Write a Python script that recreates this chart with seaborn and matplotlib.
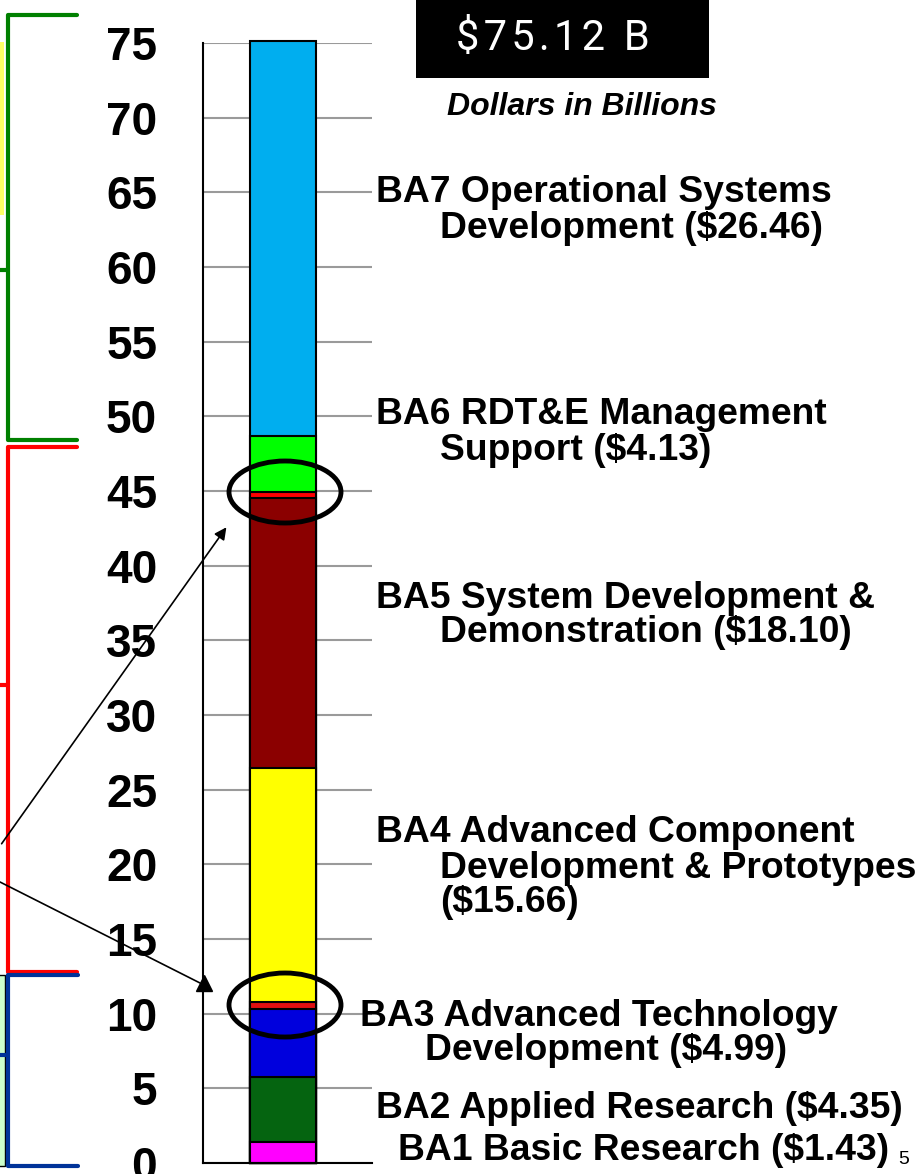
import numpy as np
import pandas as pd
import matplotlib.pyplot as plt
import seaborn as sns
from matplotlib.patches import Ellipse, Rectangle

# RDT&E budget activities, bottom to top (dollars in billions)
ba_codes = ["BA1", "BA2", "BA3", "BA4", "BA5", "BA6", "BA7"]
ba_values = [1.43, 4.35, 4.99, 15.66, 18.10, 4.13, 26.46]
total = 75.12

# segments as drawn in the bar (thin red slices sit at the BA3 / BA6 tops and bottoms)
seg_names = ["BA1", "BA2", "BA3", "BA3 slice", "BA4", "BA5", "BA6 slice", "BA6", "BA7"]
seg_values = [1.43, 4.35, 4.54, 0.45, 15.66, 18.10, 0.37, 3.76, 26.46]
seg_colors = ["#FF00FF", "#056410", "#0000DD", "#E01010", "#FFFF00",
              "#8B0000", "#FF0000", "#00FF00", "#00AEEF"]

y_ticks = list(range(0, 80, 5))

sns.set_style("white")
plt.rcParams["font.family"] = ["Liberation Sans", "DejaVu Sans"]
plt.rcParams["text.color"] = "black"
plt.rcParams["axes.labelcolor"] = "black"
plt.rcParams["xtick.color"] = "black"
plt.rcParams["ytick.color"] = "black"

df = pd.DataFrame({"seg": seg_names, "value": seg_values, "color": seg_colors})
df["top"] = df["value"].cumsum()
df["bar"] = "RDT&E"

fig = plt.figure(figsize=(9.24, 11.74), dpi=100)
ax = fig.add_axes([203 / 924, 11 / 1174, 169 / 924, 1120 / 1174])

# stacked bar: draw cumulative totals from the top down so each lower one sits on top
for _, row in df.iloc[::-1].iterrows():
    sns.barplot(x=[row["bar"]], y=[row["top"]], color=row["color"], saturation=1,
                width=0.39, edgecolor="black", linewidth=1.5, clip_on=False, ax=ax)

ax.set_xlim(-0.473, 0.527)
ax.set_ylim(0, 75)
ax.set_yticks(y_ticks)
ax.set_yticklabels([str(t) for t in y_ticks], fontsize=33, fontweight="bold", color="black")
ax.set_xticks([-0.473, 0.491])
ax.set_xticklabels(["", ""])
ax.set_xlabel("")
ax.set_ylabel("")
ax.yaxis.grid(True, color="#9a9a9a", linewidth=1.5)
ax.set_axisbelow(True)
for s in ["top", "right"]:
    ax.spines[s].set_visible(False)
for s in ["left", "bottom"]:
    ax.spines[s].set_color("black")
    ax.spines[s].set_linewidth(1.5)
ax.tick_params(axis="y", direction="out", length=13, width=1.5, pad=20, colors="black")
ax.tick_params(axis="x", direction="out", length=8, width=1.5, colors="black")

# overlay in pixel coordinates for the slide annotations
ov = fig.add_axes([0, 0, 1, 1], zorder=5)
ov.set_xlim(0, 924)
ov.set_ylim(1174, 0)
ov.axis("off")
ov.patch.set_alpha(0)

# cut-off slide elements at the left edge
ov.add_patch(Rectangle((0, 42), 4, 173, fc="#FFFF66", ec="none"))
ov.add_patch(Rectangle((-3, 975), 8, 191, fc="#CCFFCC", ec="black", lw=1))
ov.plot([77, 8, 8, 77], [15, 15, 440, 440], color="#008000", lw=3, solid_capstyle="round")
ov.plot([0, 8], [270, 270], color="#008000", lw=3)
ov.plot([77, 8, 8, 77], [447, 447, 972, 972], color="#FF0000", lw=3, solid_capstyle="round")
ov.plot([0, 8], [685, 685], color="#FF0000", lw=3)
ov.plot([78, 8, 8, 78], [975, 975, 1166, 1166], color="#003399", lw=3, solid_capstyle="round")
ov.plot([0, 8], [1055, 1055], color="#003399", lw=3)

# arrows and circles
ov.annotate("", xy=(228, 525), xytext=(0, 846),
            arrowprops=dict(arrowstyle="-|>", color="black", lw=1.2, mutation_scale=18))
ov.plot([0, 200], [882, 983], color="black", lw=1.2)
ov.plot([204], [983], marker="^", markersize=11, color="black")
ov.add_patch(Ellipse((285, 492), 112, 62, fill=False, ec="black", lw=3.5))
ov.add_patch(Ellipse((285, 1005), 112, 64, fill=False, ec="black", lw=3.5))

# total box
ov.add_patch(Rectangle((416, 0), 293, 78, fc="black", ec="none"))
ov.text(553, 38, "\u200a".join(f"${total:.2f} B"), color="white", fontsize=30,
        family=["Roboto", "DejaVu Sans"], fontweight="normal", ha="center", va="center")
ov.text(582, 107, "Dollars in Billions", fontsize=23, fontweight="bold", style="italic",
        ha="center", va="center")

# category labels
v = dict(zip(ba_codes, ba_values))
labels = [
    ("BA7 Operational Systems", 376, 192),
    (f"Development (${v['BA7']:.2f})", 440, 229),
    ("BA6 RDT&E Management", 376, 414),
    (f"Support (${v['BA6']:.2f})", 440, 450),
    ("BA5 System Development &", 376, 598),
    (f"Demonstration (${v['BA5']:.2f})", 440, 633),
    ("BA4 Advanced Component", 376, 833),
    ("Development & Prototypes", 440, 868),
    (f"(${v['BA4']:.2f})", 440, 903),
    ("BA3 Advanced Technology", 360, 1016),
    (f"Development (${v['BA3']:.2f})", 425, 1050),
    (f"BA2 Applied Research (${v['BA2']:.2f})", 376, 1108),
    (f"BA1 Basic Research (${v['BA1']:.2f})", 398, 1151),
]
for txt, x, y in labels:
    ov.text(x, y, txt, fontsize=26.8, fontweight="bold", ha="left", va="center")

ov.text(898, 1160, "5", fontsize=14, ha="left", va="center")

fig.savefig("out.png", dpi=100)
